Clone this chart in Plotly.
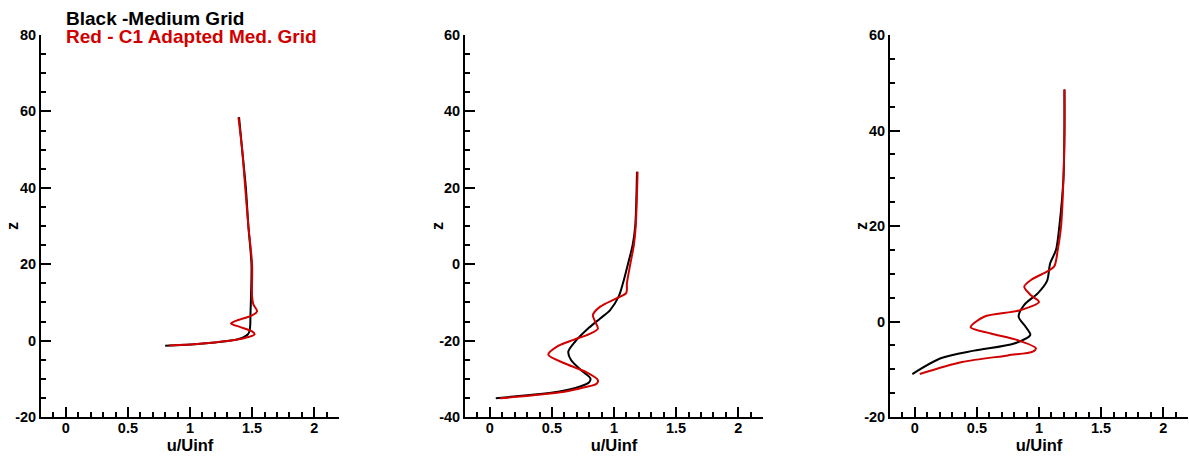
import plotly.graph_objects as go

# ---------------- data ----------------
# Panel 1
p1_black_u = [0.80, 0.93, 1.06, 1.20, 1.33, 1.42, 1.465, 1.480, 1.485, 1.487, 1.490, 1.495, 1.47, 1.45, 1.42, 1.395]
p1_black_z = [-1.35, -1.15, -0.9, -0.5, 0.0, 0.7, 1.6, 2.6, 4.0, 7.0, 10.0, 20.0, 30.0, 40.0, 50.0, 58.5]
p1_red_u = [0.83, 0.95, 1.06, 1.20, 1.33, 1.44, 1.52, 1.50, 1.40, 1.33, 1.38, 1.50, 1.54, 1.51, 1.50, 1.50, 1.47, 1.445, 1.42, 1.39]
p1_red_z = [-1.3, -1.1, -0.9, -0.5, 0.0, 0.7, 1.6, 2.4, 3.6, 4.5, 5.3, 6.6, 7.7, 9.5, 11.5, 20.0, 30.0, 40.0, 50.0, 58.5]

# Panel 2
p2_black_u = [0.048, 0.30, 0.55, 0.727, 0.80, 0.81, 0.74, 0.654, 0.632, 0.686, 0.80, 0.889, 0.969, 1.037, 1.072, 1.112, 1.150, 1.171, 1.185]
p2_black_z = [-35.1, -34.3, -33.4, -32.0, -30.9, -29.9, -27.9, -25.1, -22.9, -20.3, -16.6, -14.2, -12.0, -8.5, -5.0, 0.0, 5.0, 10.0, 24.2]
p2_red_u = [0.081, 0.35, 0.60, 0.754, 0.86, 0.87, 0.78, 0.62, 0.471, 0.55, 0.673, 0.80, 0.87, 0.845, 0.83, 0.889, 1.023, 1.099, 1.104, 1.131, 1.160, 1.175, 1.19]
p2_red_z = [-35.1, -34.3, -33.4, -32.3, -31.3, -30.3, -28.3, -26.2, -23.7, -21.4, -19.8, -18.3, -16.9, -14.8, -13.3, -11.1, -8.9, -7.5, -5.0, 0.0, 5.0, 10.0, 24.2]

# Panel 3
p3_black_u = [-0.02, 0.208, 0.477, 0.80, 0.93, 0.895, 0.836, 0.881, 0.99, 1.065, 1.09, 1.137, 1.164, 1.197, 1.205, 1.205]
p3_black_z = [-11.0, -7.7, -6.1, -4.6, -2.8, -1.2, 1.0, 3.5, 5.9, 8.5, 12.2, 15.0, 20.0, 30.0, 40.0, 48.6]
p3_red_u = [0.04, 0.38, 0.75, 0.95, 0.975, 0.828, 0.612, 0.45, 0.558, 0.84, 1.00, 0.935, 0.881, 0.935, 1.075, 1.124, 1.151, 1.178, 1.197, 1.205, 1.205]
p3_red_z = [-11.0, -8.5, -7.1, -6.3, -5.6, -3.9, -2.5, -1.2, 1.0, 2.3, 4.1, 5.5, 7.3, 8.7, 10.6, 11.6, 15.0, 20.0, 30.0, 40.0, 48.6]

x_tickvals = [0, 0.5, 1, 1.5, 2]
x_ticktext = ["0", "0.5", "1", "1.5", "2"]
y1_tickvals = [-20, 0, 20, 40, 60, 80]
y1_ticktext = ["-20", "0", "20", "40", "60", "80"]
y2_tickvals = [-40, -20, 0, 20, 40, 60]
y2_ticktext = ["-40", "-20", "0", "20", "40", "60"]
y3_tickvals = [-20, 0, 20, 40, 60]
y3_ticktext = ["-20", "0", "20", "40", "60"]

legend_black = "Black -Medium Grid"
legend_red = "Red - C1 Adapted Med. Grid"

BLACK = "#000000"
RED = "#d10000"
FONT = "Liberation Sans, Arial, sans-serif"

fig = go.Figure()

panels = [
    (p1_black_u, p1_black_z, p1_red_u, p1_red_z, "x", "y"),
    (p2_black_u, p2_black_z, p2_red_u, p2_red_z, "x2", "y2"),
    (p3_black_u, p3_black_z, p3_red_u, p3_red_z, "x3", "y3"),
]
for bu, bz, ru, rz, xa, ya in panels:
    fig.add_trace(go.Scatter(x=bu, y=bz, mode="lines", xaxis=xa, yaxis=ya,
                             line=dict(color=BLACK, width=2, shape="spline", smoothing=0.8),
                             showlegend=False, hoverinfo="skip"))
    fig.add_trace(go.Scatter(x=ru, y=rz, mode="lines", xaxis=xa, yaxis=ya,
                             line=dict(color=RED, width=2, shape="spline", smoothing=0.8),
                             showlegend=False, hoverinfo="skip"))

L, R = 41, 1
W = 1189
pw = W - L - R
def dom(a, b):
    return [(a - L) / pw, (b - L) / pw]

domains = [dom(41, 339), dom(465, 763), dom(890, 1188)]

def xaxis(d, anchor):
    return dict(domain=d, anchor=anchor, range=[-0.2, 2.2], tickvals=x_tickvals, ticktext=x_ticktext,
                ticks="inside", ticklen=10, tickwidth=2, tickcolor="black",
                minor=dict(dtick=0.1, tick0=0, ticks="inside", ticklen=5, tickwidth=1.5, tickcolor="black"),
                showline=True, linewidth=2, linecolor="black", showgrid=False, zeroline=False,
                ticklabelstandoff=-3,
                tickfont=dict(family=FONT, size=14.5, color="black", weight="bold"),
                title=dict(text="u/Uinf", font=dict(family=FONT, size=16.5, color="black", weight="bold"), standoff=0))

def yaxis(rng, tv, tt, anchor):
    return dict(domain=[0, 1], anchor=anchor, range=rng, tickvals=tv, ticktext=tt,
                ticks="inside", ticklen=10, tickwidth=2, tickcolor="black",
                minor=dict(dtick=5, tick0=0, ticks="inside", ticklen=5, tickwidth=1.5, tickcolor="black"),
                showline=True, linewidth=2, linecolor="black", showgrid=False, zeroline=False,
                tickfont=dict(family=FONT, size=14.5, color="black", weight="bold"))

fig.update_layout(
    width=1189, height=460,
    margin=dict(l=L, r=R, t=35, b=43),
    paper_bgcolor="white", plot_bgcolor="white",
    xaxis=xaxis(domains[0], "y"),
    xaxis2=xaxis(domains[1], "y2"),
    xaxis3=xaxis(domains[2], "y3"),
    yaxis=yaxis([-20, 80], y1_tickvals, y1_ticktext, "x"),
    yaxis2=yaxis([-40, 60], y2_tickvals, y2_ticktext, "x2"),
    yaxis3=yaxis([-20, 60], y3_tickvals, y3_ticktext, "x3"),
)

H = 382
def py(pix):
    return 1 - (pix - 35) / H
def px(pix):
    return (pix - L) / pw

annots = [
    dict(text=legend_black, x=px(64), y=py(18.5), color=BLACK, size=19),
    dict(text=legend_red, x=px(64), y=py(36.5), color=RED, size=19),
]
for a in annots:
    fig.add_annotation(text=a["text"], x=a["x"], y=a["y"], xref="paper", yref="paper",
                       xanchor="left", yanchor="middle", showarrow=False,
                       font=dict(family=FONT, size=a["size"], color=a["color"], weight="bold"))

for zx in [12, 437, 861]:
    fig.add_annotation(text="z", x=px(zx), y=py(226), xref="paper", yref="paper",
                       xanchor="center", yanchor="middle", showarrow=False, textangle=-90,
                       font=dict(family=FONT, size=16, color="black", weight="bold"))

fig.write_html("out.html")
